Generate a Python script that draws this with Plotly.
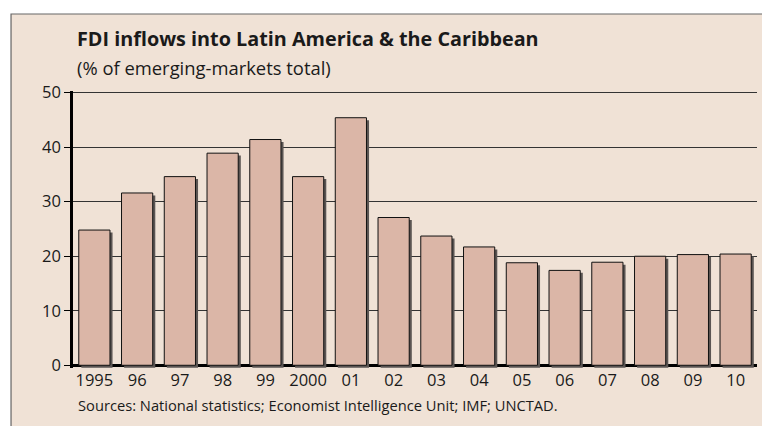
import plotly.graph_objects as go

# FDI inflows into Latin America & the Caribbean, % of emerging-markets total
years = ["1995", "96", "97", "98", "99", "2000", "01", "02", "03", "04",
         "05", "06", "07", "08", "09", "10"]
share = [24.8, 31.6, 34.6, 38.9, 41.4, 34.6, 45.4, 27.1, 23.7, 21.7,
         18.8, 17.4, 18.9, 20.0, 20.3, 20.4]

y_ticks = [0, 10, 20, 30, 40, 50]

bg = "#F0E2D6"
bar_fill = "#DBB6A7"
ink = "#1a1a1a"
font_family = "Open Sans, DejaVu Sans, sans-serif"

bar_w = 0.73
fig = go.Figure()

# drop shadow behind the bars
fig.add_trace(go.Bar(
    x=years, y=share, base=-0.45, width=bar_w, offset=-bar_w / 2 + 0.06,
    marker=dict(color="#5b5553", line=dict(width=0)),
    hoverinfo="skip", showlegend=False,
))
fig.add_trace(go.Bar(
    x=years, y=share, width=bar_w, offset=-bar_w / 2,
    marker=dict(color=bar_fill, line=dict(color="#111111", width=1)),
    showlegend=False,
))

# beige panel with grey border (top and left visible)
fig.add_shape(type="rect", xref="paper", yref="paper",
              x0=-0.0906, x1=1.2, y0=-0.5, y1=1.2779,
              fillcolor=bg, line=dict(color="#666666", width=1.2), layer="below")

fig.add_annotation(text="<b>FDI inflows into Latin America &amp; the Caribbean</b>",
                   xref="paper", yref="paper", x=0.003, y=1.19,
                   xanchor="left", yanchor="middle", showarrow=False,
                   font=dict(size=19.8, color=ink, family=font_family))
fig.add_annotation(text="(% of emerging-markets total)",
                   xref="paper", yref="paper", x=0.003, y=1.085,
                   xanchor="left", yanchor="middle", showarrow=False,
                   font=dict(size=18.4, color=ink, family=font_family))
fig.add_annotation(text="Sources: National statistics; Economist Intelligence Unit; IMF; UNCTAD.",
                   xref="paper", yref="paper", x=0.004, y=-0.134,
                   xanchor="left", yanchor="middle", showarrow=False,
                   font=dict(size=14.7, color=ink, family=font_family))

fig.update_layout(
    width=762, height=426,
    margin=dict(l=73, r=5, t=91, b=58),
    paper_bgcolor="white",
    plot_bgcolor="rgba(0,0,0,0)",
    barmode="overlay",
    font=dict(family=font_family, color=ink, size=16),
    xaxis=dict(
        type="category", range=[-0.5, 15.5],
        showgrid=False, zeroline=False, showline=False,
        ticks="", tickfont=dict(size=16.5, color=ink),
    ),
    yaxis=dict(
        range=[-0.5, 50.3], tickvals=y_ticks,
        showgrid=True, gridcolor="#333333", gridwidth=1,
        zeroline=True, zerolinecolor="#000000", zerolinewidth=2.5,
        showline=True, linecolor="#000000", linewidth=2.5,
        ticks="outside", ticklen=6, tickcolor="#000000", tickwidth=1,
        tickfont=dict(size=16.5, color=ink),
    ),
)

# drop the default page margin so the 762x426 figure fills the window
fig.write_html("out.html",
               config={"displayModeBar": False},
               post_script="document.body.style.margin='0';"
                           "document.body.style.overflow='hidden';")
